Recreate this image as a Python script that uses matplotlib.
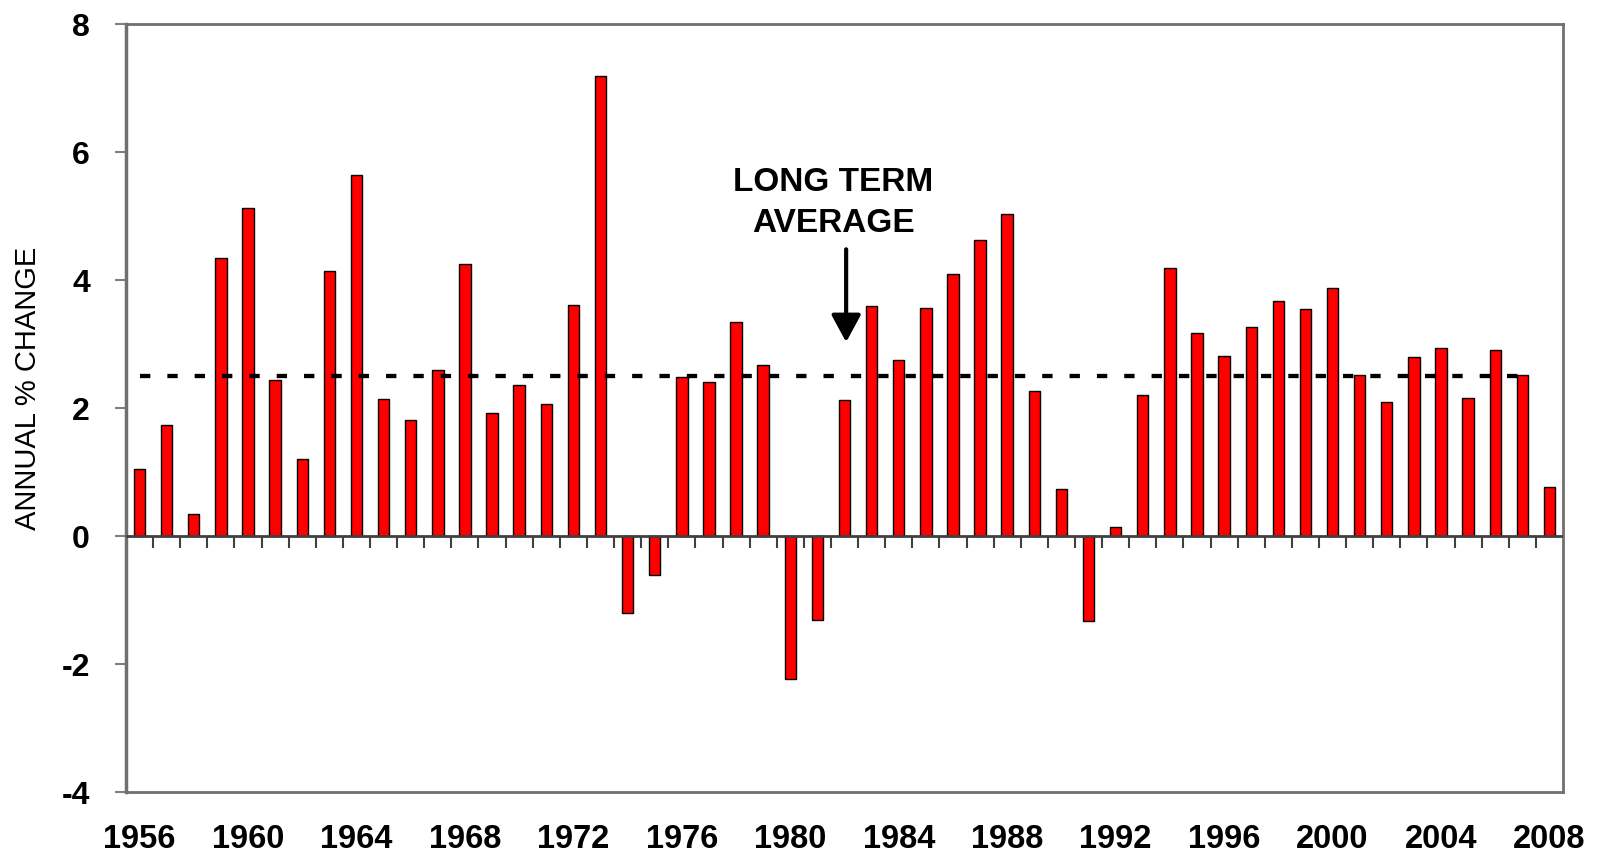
import numpy as np
import matplotlib
matplotlib.use("Agg")
import matplotlib.pyplot as plt

plt.rcParams['font.family'] = ['Liberation Sans', 'DejaVu Sans']

# データ
years = list(range(1956, 2009))
pct_change = [1.04, 1.73, 0.34, 4.35, 5.13, 2.44, 1.20, 4.14, 5.64, 2.14,
              1.82, 2.59, 4.25, 1.93, 2.36, 2.06, 3.61, 7.19, -1.21, -0.61,
              2.48, 2.41, 3.34, 2.67, -2.24, -1.31, 2.12, 3.59, 2.75, 3.56,
              4.10, 4.62, 5.03, 2.27, 0.73, -1.33, 0.14, 2.20, 4.19, 3.18,
              2.81, 3.26, 3.67, 3.55, 3.88, 2.51, 2.09, 2.80, 2.94, 2.16,
              2.91, 2.52, 0.77]
long_term_avg = 2.5
yticks = [-4, -2, 0, 2, 4, 6, 8]

x = np.arange(len(years))

fig = plt.figure(figsize=(15.99, 8.58), dpi=100)
ax = fig.add_axes([0.0788, 0.0769, 0.8987, 0.8951])

ax.bar(x, pct_change, width=0.42, color="#ff0000", edgecolor="black", linewidth=1.0, zorder=3)

# 長期平均（破線）
ax.plot([x[0], x[-2] + 0.4], [long_term_avg, long_term_avg], color="black",
        linestyle=(0, (2.4, 3.95)), linewidth=3.1, zorder=4)

# ゼロ線と区切りの目盛り
ax.axhline(0, color="#404040", linewidth=2, zorder=5)
bounds = np.arange(1, len(years)) - 0.5
ax.vlines(bounds, -0.18, 0, color="#404040", linewidth=1.5, zorder=5)

ax.set_xlim(-0.5, len(years) - 0.5)
ax.set_ylim(-4, 8)
ax.set_yticks(yticks)
ax.set_yticklabels([str(v) for v in yticks], fontsize=23, fontweight="bold")
ax.set_xticks(x[::4])
ax.set_xticklabels([str(y) for y in years[::4]], fontsize=23.5, fontweight="bold")
ax.tick_params(axis="x", length=0, pad=23)
ax.tick_params(axis="y", length=8, width=1.5, color="#808080", pad=18)

for s in ax.spines.values():
    s.set_color("#707070")
    s.set_linewidth(2)
ax.spines['left'].set_linewidth(2.5)

fig.text(28 / 1599, 1 - 388 / 858, "ANNUAL % CHANGE", rotation=90, fontsize=21,
         ha="center", va="center")

ax.annotate("", xy=(26.06, 3.03), xytext=(26.06, 4.48),
            arrowprops=dict(arrowstyle="-|>,head_length=1.66,head_width=0.9",
                            color="black", lw=3, shrinkA=0, shrinkB=0), zorder=6)
ax.text(25.58, 5.2, "LONG TERM\nAVERAGE", ha="center", va="center",
        fontsize=24, fontweight="bold", linespacing=1.4, zorder=6)

fig.savefig("out.png", dpi=100)
